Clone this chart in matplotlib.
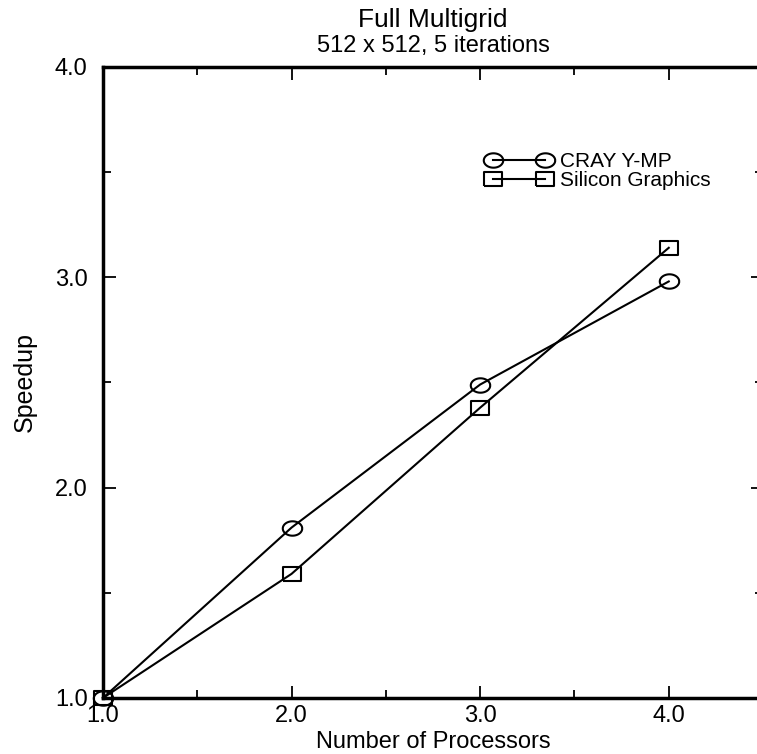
import matplotlib
matplotlib.use("Agg")
import numpy as np
from matplotlib import pyplot as plt
from matplotlib.ticker import MultipleLocator

processors = [1, 2, 3, 4]
cray_speedup = [1.0, 1.81, 2.49, 2.98]
sgi_speedup = [1.0, 1.59, 2.38, 3.14]
labels = ["CRAY Y-MP", "Silicon Graphics"]

plt.rcParams["font.family"] = ["Liberation Sans", "DejaVu Sans"]

# markers in the original are a bit wider than tall
t = np.linspace(0, 2 * np.pi, 60)
ellipse = list(zip(np.cos(t), 0.74 * np.sin(t)))
rect = [(-1, -0.78), (1, -0.78), (1, 0.78), (-1, 0.78), (-1, -0.78)]

fig = plt.figure(figsize=(7.57, 7.54), dpi=100)
ax = fig.add_axes([0.136, 0.0743, 0.872, 0.837])

ax.plot(processors, cray_speedup, color="black", lw=1.5, marker=ellipse,
        markersize=14, markerfacecolor="none", markeredgewidth=1.5,
        clip_on=False, label=labels[0])
ax.plot(processors, sgi_speedup, color="black", lw=1.5, marker=rect,
        markersize=12.5, markerfacecolor="none", markeredgewidth=1.5,
        clip_on=False, label=labels[1])

ax.set_xlim(1.0, 4.5)
ax.set_ylim(1.0, 4.0)
ax.xaxis.set_major_locator(MultipleLocator(1.0))
ax.xaxis.set_minor_locator(MultipleLocator(0.5))
ax.yaxis.set_major_locator(MultipleLocator(1.0))
ax.yaxis.set_minor_locator(MultipleLocator(0.5))
ax.xaxis.set_major_formatter(plt.FormatStrFormatter("%.1f"))
ax.yaxis.set_major_formatter(plt.FormatStrFormatter("%.1f"))

ax.tick_params(which="both", direction="in", top=True, right=True, width=1.3)
ax.tick_params(which="major", length=9, labelsize=17)
ax.tick_params(which="minor", length=6)
ax.tick_params(axis="x", pad=5)
ax.tick_params(axis="y", pad=11)

for s in ax.spines.values():
    s.set_linewidth(2.5)

ax.set_xlabel("Number of Processors", fontsize=17, labelpad=3)
ax.set_ylabel("Speedup", fontsize=18, labelpad=13)

fig.text(0.572, 0.973, "Full Multigrid", ha="center", va="center", fontsize=19)
fig.text(0.572, 0.939, "512 x 512, 5 iterations", ha="center", va="center",
         fontsize=17)

ax.legend(loc="center left", bbox_to_anchor=(487 / 757, 1 - 171 / 754),
          bbox_transform=fig.transFigure, numpoints=2, frameon=False,
          fontsize=15, handlelength=3.1, handletextpad=0.4,
          labelspacing=0.0, borderpad=0, borderaxespad=0)

fig.savefig("out.png", dpi=100)
